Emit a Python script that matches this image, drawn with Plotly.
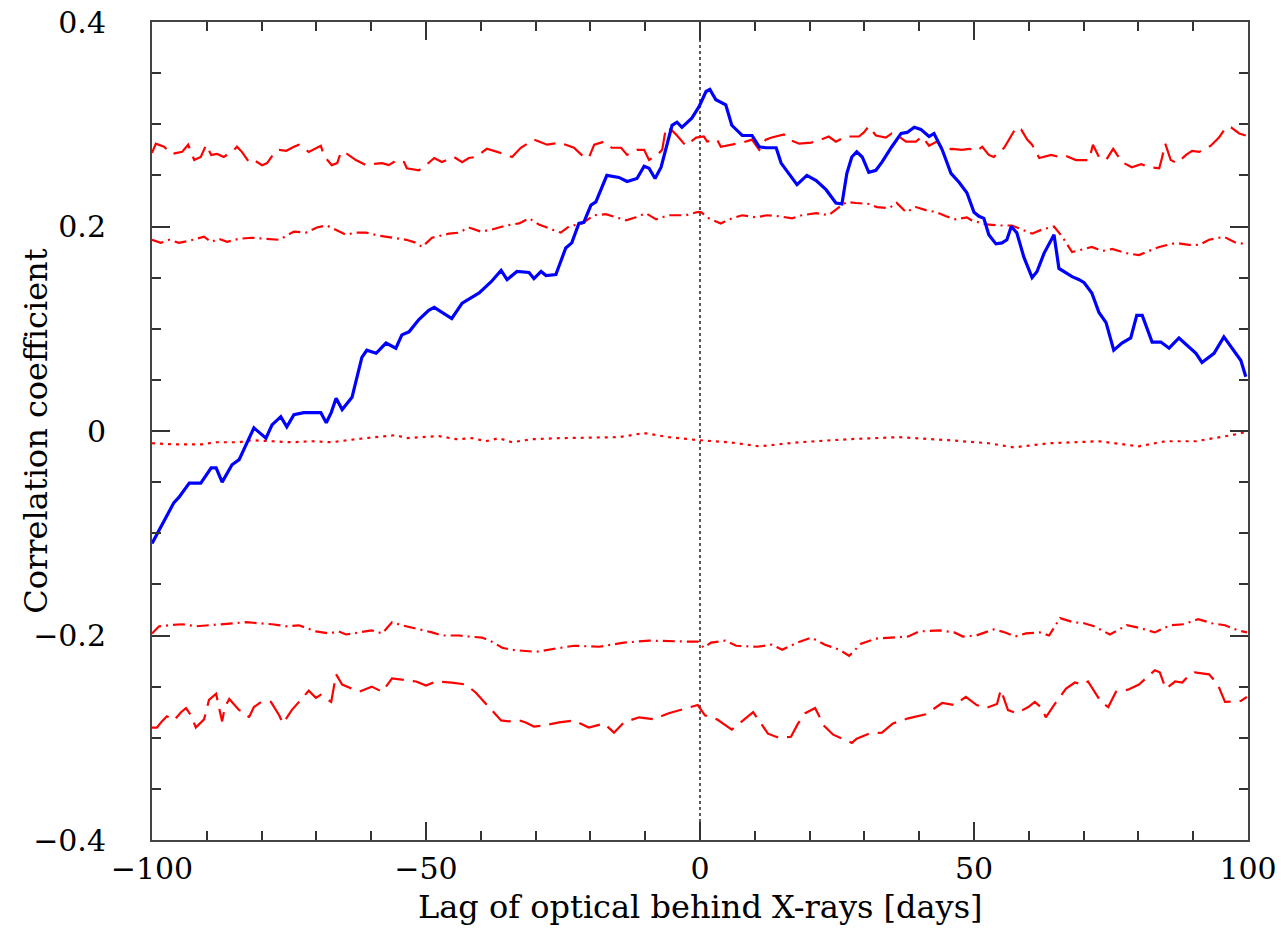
import plotly.graph_objects as go

# ---------------- data ----------------
ccf_lag = [-100, -97.4, -96.0, -95.1, -93.2, -91.1, -89.2, -88.3, -87.2, -85.4, -84.1, -81.4, -79.2, -78.1,
           -76.5, -75.4, -74.1, -72.3, -69.2, -68.2, -67.3, -66.4, -65.3, -63.5, -61.7, -60.8, -59.1, -57.3,
           -55.5, -54.4, -53.1, -51.3, -49.5, -48.5, -45.3, -43.4, -40.3, -38.1, -36.3, -35.2, -33.4, -31.2,
           -30.3, -29.0, -28.1, -26.3, -24.5, -23.4, -22.1, -21.2, -19.9, -19.0, -17.0, -14.8, -13.3, -11.5,
           -10.2, -9.3, -8.2, -7.1, -5.1, -4.2, -3.3, -1.5, -0.2, 1.1, 1.8, 2.9, 4.7, 5.8, 7.7, 9.5, 10.8,
           12.0, 13.9, 14.8, 16.2, 17.7, 19.5, 21.2, 23.0, 24.8, 25.9, 26.8, 27.7, 28.6, 29.6, 30.8, 32.1,
           33.2, 35.0, 36.7, 37.8, 39.1, 40.3, 41.8, 42.7, 44.2, 45.8, 47.3, 48.7, 50.0, 50.9, 51.8, 52.7,
           54.0, 55.1, 56.0, 56.8, 57.8, 59.1, 60.6, 61.5, 62.8, 64.6, 65.5, 67.9, 69.2, 70.1, 71.5, 72.8,
           74.1, 75.5, 77.0, 78.6, 79.7, 80.7, 82.5, 84.1, 85.6, 87.4, 90.5, 91.6, 93.8, 95.6, 97.8, 98.7, 99.6]
ccf_val = [-0.110, -0.085, -0.070, -0.065, -0.051, -0.051, -0.036, -0.036, -0.050, -0.033, -0.028, 0.003,
           -0.007, 0.006, 0.014, 0.004, 0.016, 0.018, 0.018, 0.008, 0.018, 0.032, 0.021, 0.033, 0.072, 0.079,
           0.076, 0.086, 0.081, 0.094, 0.097, 0.109, 0.118, 0.121, 0.110, 0.125, 0.135, 0.146, 0.157, 0.148,
           0.156, 0.155, 0.149, 0.156, 0.152, 0.153, 0.179, 0.184, 0.203, 0.204, 0.221, 0.224, 0.250, 0.248,
           0.244, 0.247, 0.259, 0.257, 0.247, 0.258, 0.299, 0.302, 0.297, 0.306, 0.317, 0.332, 0.334, 0.324,
           0.319, 0.299, 0.289, 0.289, 0.278, 0.277, 0.277, 0.262, 0.252, 0.241, 0.250, 0.245, 0.236, 0.223,
           0.222, 0.252, 0.268, 0.273, 0.268, 0.253, 0.255, 0.263, 0.278, 0.291, 0.292, 0.297, 0.295, 0.288,
           0.291, 0.275, 0.252, 0.243, 0.233, 0.214, 0.210, 0.208, 0.192, 0.183, 0.184, 0.187, 0.200, 0.194,
           0.170, 0.150, 0.156, 0.174, 0.192, 0.159, 0.151, 0.148, 0.145, 0.135, 0.116, 0.106, 0.079, 0.086,
           0.091, 0.113, 0.113, 0.087, 0.087, 0.081, 0.091, 0.076, 0.067, 0.076, 0.092, 0.076, 0.069, 0.053]

up_dash_lag = [-100, -99.3, -97.8, -96.4, -94.5, -93.4, -92.3, -91.1, -90.1, -89.2, -88.1, -86.9, -85.0, -84.5,
               -83.6, -82.3, -81.4, -79.9, -79.0, -77.7, -76.8, -75.5, -74.1, -73.2, -71.4, -69.2, -68.6, -67.2,
               -66.2, -65.5, -64.4, -62.8, -60.9, -59.9, -58.0, -56.8, -55.3, -54.0, -53.5, -51.3, -50.0, -48.5,
               -47.1, -44.9, -43.4, -42.2, -40.9, -38.9, -37.0, -35.4, -34.3, -32.7, -30.3, -27.9, -25.7, -24.5,
               -23.0, -21.2, -20.3, -19.3, -17.5, -16.1, -14.4, -13.3, -11.5, -10.2, -9.3, -7.8, -6.9, -6.2,
               -5.1, -4.2, -2.6, -0.7, 0.7, 1.3, 3.1, 3.8, 5.8, 7.7, 9.5, 10.8, 12.0, 13.1, 15.3, 16.2, 18.1,
               20.3, 22.1, 23.5, 24.8, 26.6, 29.0, 29.9, 30.8, 32.1, 33.9, 35.0, 36.3, 37.6, 39.4, 40.5, 41.8,
               43.2, 44.5, 46.0, 47.8, 49.1, 50.5, 51.5, 52.7, 53.6, 55.5, 57.7, 58.6, 59.7, 60.6, 61.9, 64.1,
               65.5, 66.8, 68.6, 71.0, 71.7, 72.8, 74.1, 75.4, 76.5, 77.0, 78.8, 80.5, 81.9, 83.8, 84.3, 84.9,
               85.9, 87.0, 88.7, 89.8, 91.1, 93.2, 94.7, 96.0, 96.9, 98.4, 99.6]
up_dash_val = [0.272, 0.281, 0.278, 0.271, 0.273, 0.280, 0.265, 0.268, 0.280, 0.270, 0.271, 0.268, 0.275, 0.278,
               0.273, 0.263, 0.265, 0.260, 0.262, 0.272, 0.275, 0.274, 0.278, 0.280, 0.273, 0.279, 0.269, 0.260,
               0.262, 0.273, 0.271, 0.265, 0.260, 0.261, 0.262, 0.260, 0.265, 0.263, 0.257, 0.255, 0.260, 0.267,
               0.263, 0.268, 0.263, 0.267, 0.268, 0.276, 0.273, 0.270, 0.268, 0.277, 0.285, 0.280, 0.282, 0.280,
               0.277, 0.268, 0.267, 0.280, 0.283, 0.277, 0.277, 0.270, 0.275, 0.275, 0.265, 0.270, 0.275, 0.297,
               0.294, 0.289, 0.279, 0.287, 0.288, 0.283, 0.285, 0.278, 0.280, 0.282, 0.285, 0.275, 0.285, 0.287,
               0.290, 0.285, 0.281, 0.282, 0.285, 0.288, 0.283, 0.288, 0.288, 0.292, 0.298, 0.289, 0.287, 0.291,
               0.288, 0.283, 0.283, 0.288, 0.279, 0.283, 0.275, 0.276, 0.275, 0.276, 0.274, 0.278, 0.270, 0.268,
               0.277, 0.297, 0.295, 0.285, 0.280, 0.267, 0.270, 0.268, 0.269, 0.265, 0.265, 0.280, 0.268, 0.265,
               0.276, 0.267, 0.263, 0.258, 0.261, 0.258, 0.257, 0.267, 0.281, 0.265, 0.262, 0.270, 0.274, 0.273,
               0.279, 0.287, 0.297, 0.297, 0.291, 0.289]

up_dd_lag = [-100, -98.4, -96.9, -95.1, -93.2, -90.5, -89.2, -87.8, -86.3, -84.1, -81.8, -79.2, -76.8, -74.1,
             -71.9, -69.9, -68.2, -67.3, -65.9, -64.6, -62.8, -60.9, -58.6, -56.2, -53.6, -51.8, -50.7, -48.9,
             -45.8, -44.0, -42.2, -40.0, -38.0, -35.4, -33.0, -31.2, -29.4, -27.0, -25.4, -23.9, -21.5, -19.3,
             -17.2, -15.3, -13.5, -11.7, -9.9, -8.0, -5.7, -2.6, -0.5, 0.2, 1.6, 3.8, 5.8, 7.7, 10.2, 12.2,
             14.4, 16.8, 18.6, 21.2, 23.5, 25.4, 26.8, 28.5, 30.8, 32.3, 34.5, 35.9, 37.6, 39.4, 41.2, 43.1,
             44.9, 46.7, 48.7, 49.6, 52.2, 54.6, 56.9, 58.8, 60.6, 62.4, 64.6, 66.1, 67.9, 70.1, 71.5, 73.4,
             75.2, 77.7, 80.1, 81.9, 83.8, 86.9, 89.2, 91.1, 92.9, 95.6, 97.8, 99.6]
up_dd_val = [0.187, 0.184, 0.187, 0.184, 0.186, 0.190, 0.185, 0.188, 0.185, 0.188, 0.189, 0.188, 0.187, 0.195,
             0.194, 0.199, 0.201, 0.199, 0.195, 0.192, 0.194, 0.194, 0.191, 0.189, 0.187, 0.184, 0.180, 0.189,
             0.193, 0.194, 0.199, 0.195, 0.197, 0.201, 0.203, 0.208, 0.202, 0.197, 0.194, 0.200, 0.203, 0.211,
             0.212, 0.209, 0.206, 0.209, 0.213, 0.207, 0.211, 0.211, 0.214, 0.214, 0.208, 0.203, 0.208, 0.211,
             0.209, 0.211, 0.210, 0.208, 0.211, 0.213, 0.211, 0.219, 0.224, 0.223, 0.222, 0.219, 0.218, 0.223,
             0.214, 0.219, 0.216, 0.214, 0.210, 0.207, 0.209, 0.206, 0.202, 0.201, 0.201, 0.197, 0.193, 0.197,
             0.200, 0.190, 0.175, 0.178, 0.180, 0.176, 0.178, 0.174, 0.172, 0.176, 0.180, 0.184, 0.182, 0.182,
             0.187, 0.190, 0.184, 0.183]

mid_dot_lag = [-100, -96.4, -90.9, -88.3, -84.1, -81.8, -78.1, -74.5, -70.8, -67.2, -62.8, -58.6, -55.5, -53.6,
               -50.7, -47.6, -44.5, -41.6, -39.1, -36.7, -34.3, -30.7, -25.7, -18.4, -14.8, -10.2, -5.7, -0.2,
               5.3, 10.8, 14.4, 18.1, 27.2, 36.3, 45.4, 52.7, 57.3, 63.7, 72.8, 80.1, 85.0, 90.5, 97.1, 99.6]
mid_dot_val = [-0.012, -0.013, -0.013, -0.011, -0.011, -0.009, -0.010, -0.011, -0.010, -0.011, -0.008, -0.006,
               -0.004, -0.007, -0.006, -0.005, -0.008, -0.007, -0.010, -0.007, -0.011, -0.008, -0.007, -0.006,
               -0.006, -0.002, -0.006, -0.009, -0.011, -0.015, -0.013, -0.011, -0.008, -0.006, -0.009, -0.012,
               -0.016, -0.012, -0.010, -0.015, -0.010, -0.010, -0.004, -0.001]

lo_dd_lag = [-100, -98.7, -96.9, -94.5, -92.0, -89.6, -86.3, -82.8, -80.5, -78.1, -75.5, -73.2, -70.1, -67.7,
             -65.9, -64.6, -62.2, -59.9, -58.0, -56.2, -54.4, -51.8, -48.9, -47.1, -44.0, -42.2, -39.8, -38.0,
             -36.1, -34.3, -32.5, -29.9, -26.6, -23.0, -18.4, -13.9, -9.3, -4.7, -2.0, -0.4, 0.7, 2.0, 4.6,
             6.6, 10.4, 13.1, 15.0, 17.7, 20.3, 22.8, 25.5, 27.2, 29.4, 32.1, 34.7, 38.0, 40.0, 43.8, 46.4,
             48.0, 50.4, 53.6, 55.7, 57.5, 59.5, 62.0, 63.7, 65.7, 68.1, 70.1, 71.9, 74.8, 77.9, 80.5, 83.0,
             85.8, 88.3, 90.9, 93.4, 95.8, 98.2, 99.8]
lo_dd_val = [-0.198, -0.191, -0.190, -0.189, -0.191, -0.190, -0.188, -0.187, -0.188, -0.189, -0.191, -0.190,
             -0.196, -0.198, -0.196, -0.199, -0.197, -0.195, -0.198, -0.187, -0.190, -0.193, -0.197, -0.200,
             -0.200, -0.201, -0.202, -0.206, -0.212, -0.214, -0.215, -0.216, -0.213, -0.210, -0.211, -0.207,
             -0.205, -0.206, -0.206, -0.206, -0.212, -0.207, -0.205, -0.210, -0.211, -0.209, -0.214, -0.207,
             -0.202, -0.209, -0.214, -0.220, -0.208, -0.203, -0.202, -0.201, -0.196, -0.195, -0.197, -0.201,
             -0.200, -0.194, -0.197, -0.201, -0.198, -0.197, -0.200, -0.183, -0.187, -0.188, -0.191, -0.199,
             -0.190, -0.193, -0.197, -0.190, -0.189, -0.184, -0.188, -0.190, -0.195, -0.197]

lo_dash_lag = [-100, -99.1, -98.2, -97.3, -96.0, -94.7, -93.8, -92.9, -92.0, -90.5, -89.6, -88.3, -87.8, -87.2,
               -86.7, -85.9, -84.1, -82.8, -82.3, -81.4, -80.1, -78.3, -76.8, -76.1, -74.5, -72.8, -71.4, -70.1,
               -69.2, -67.3, -66.4, -65.3, -64.4, -62.2, -59.9, -58.0, -56.2, -54.4, -51.8, -50.0, -48.2, -45.3,
               -42.7, -40.9, -39.1, -38.0, -36.3, -34.9, -33.0, -31.8, -30.3, -28.5, -25.7, -23.0, -20.3, -17.5,
               -15.7, -13.9, -11.1, -8.4, -5.7, -2.9, -0.4, 0.9, 3.1, 5.8, 7.8, 9.7, 12.4, 14.4, 16.6, 17.9,
               19.2, 21.0, 22.6, 24.3, 27.7, 28.6, 30.8, 33.2, 35.2, 38.0, 41.2, 42.5, 44.2, 46.4, 48.5, 50.5,
               52.2, 54.2, 54.9, 56.2, 57.8, 59.9, 61.1, 62.4, 63.1, 64.6, 66.8, 68.4, 69.9, 70.8, 73.2, 74.5,
               75.9, 78.1, 80.1, 83.0, 83.9, 85.0, 86.7, 88.0, 88.7, 90.3, 92.9, 94.5, 95.8, 98.7, 99.8]
lo_dash_val = [-0.290, -0.290, -0.284, -0.279, -0.283, -0.275, -0.271, -0.278, -0.290, -0.282, -0.263, -0.257,
               -0.270, -0.284, -0.270, -0.262, -0.273, -0.276, -0.280, -0.270, -0.265, -0.265, -0.278, -0.286,
               -0.273, -0.263, -0.254, -0.261, -0.258, -0.265, -0.238, -0.248, -0.250, -0.255, -0.250, -0.255,
               -0.242, -0.243, -0.245, -0.249, -0.245, -0.246, -0.248, -0.256, -0.266, -0.273, -0.283, -0.284,
               -0.283, -0.285, -0.289, -0.288, -0.285, -0.283, -0.290, -0.286, -0.295, -0.285, -0.280, -0.282,
               -0.276, -0.272, -0.268, -0.278, -0.282, -0.292, -0.283, -0.275, -0.296, -0.300, -0.299, -0.286,
               -0.276, -0.271, -0.288, -0.297, -0.305, -0.301, -0.296, -0.295, -0.286, -0.281, -0.277, -0.272,
               -0.266, -0.268, -0.260, -0.268, -0.271, -0.267, -0.253, -0.273, -0.276, -0.270, -0.265, -0.271,
               -0.280, -0.268, -0.252, -0.246, -0.248, -0.245, -0.265, -0.270, -0.255, -0.253, -0.248, -0.234,
               -0.236, -0.252, -0.245, -0.246, -0.242, -0.236, -0.238, -0.248, -0.265, -0.264, -0.260]

zero_lag_x = [0, 0]
zero_lag_y = [-0.4, 0.4]

x_ticks = [-100, -50, 0, 50, 100]
x_ticktext = ["\u2212100", "\u221250", "0", "50", "100"]
y_ticks = [-0.4, -0.2, 0, 0.2, 0.4]
y_ticktext = ["\u22120.4", "\u22120.2", "0", "0.2", "0.4"]

x_title = "Lag of optical behind X-rays [days]"
y_title = "Correlation coefficient"

# ---------------- figure ----------------
RED = "#ff0000"
fig = go.Figure()

fig.add_trace(go.Scatter(x=zero_lag_x, y=zero_lag_y, mode="lines",
                         line=dict(color="black", width=1.3, dash="3px,3px"), showlegend=False))
fig.add_trace(go.Scatter(x=up_dash_lag, y=up_dash_val, mode="lines",
                         line=dict(color=RED, width=2.2, dash="22px,9px"), showlegend=False))
fig.add_trace(go.Scatter(x=up_dd_lag, y=up_dd_val, mode="lines",
                         line=dict(color=RED, width=2.2, dash="12px,5px,2px,5px"), showlegend=False))
fig.add_trace(go.Scatter(x=mid_dot_lag, y=mid_dot_val, mode="lines",
                         line=dict(color=RED, width=2.2, dash="3px,5px"), showlegend=False))
fig.add_trace(go.Scatter(x=lo_dd_lag, y=lo_dd_val, mode="lines",
                         line=dict(color=RED, width=2.2, dash="12px,5px,2px,5px"), showlegend=False))
fig.add_trace(go.Scatter(x=lo_dash_lag, y=lo_dash_val, mode="lines",
                         line=dict(color=RED, width=2.2, dash="22px,9px"), showlegend=False))
fig.add_trace(go.Scatter(x=ccf_lag, y=ccf_val, mode="lines",
                         line=dict(color="#0000ff", width=3.2), showlegend=False))

FONT = "DejaVu Serif"
axis_common = dict(
    showgrid=False, zeroline=False, showline=True, linecolor="#444", linewidth=2,
    mirror="allticks", ticks="inside", tickcolor="#333", tickwidth=1.5,
    tickfont=dict(family=FONT, size=30, color="black"), automargin=False,
)

fig.update_xaxes(range=[-100, 100], tickvals=x_ticks, ticktext=x_ticktext, ticklen=18,
                 ticklabelstandoff=1,
                 minor=dict(ticks="inside", dtick=10, ticklen=9, tickcolor="#333", tickwidth=1.5),
                 **axis_common)
fig.update_yaxes(range=[-0.4, 0.4], tickvals=y_ticks, ticktext=y_ticktext, ticklen=18,
                 ticklabelstandoff=38,
                 minor=dict(ticks="inside", dtick=0.05, ticklen=9, tickcolor="#333", tickwidth=1.5),
                 **axis_common)

fig.add_annotation(text=x_title, xref="paper", yref="paper", x=0.5, y=-0.082,
                   xanchor="center", yanchor="middle", showarrow=False,
                   font=dict(family=FONT, size=32, color="black"))
fig.add_annotation(text=y_title, xref="paper", yref="paper", x=-0.106, y=0.5,
                   xanchor="center", yanchor="middle", textangle=-90, showarrow=False,
                   font=dict(family=FONT, size=32, color="black"))

fig.update_layout(
    width=1283, height=928,
    margin=dict(l=152, r=35, t=22, b=88, autoexpand=False),
    plot_bgcolor="white", paper_bgcolor="white",
    font=dict(family=FONT, color="black"),
)

fig.write_html("out.html")
